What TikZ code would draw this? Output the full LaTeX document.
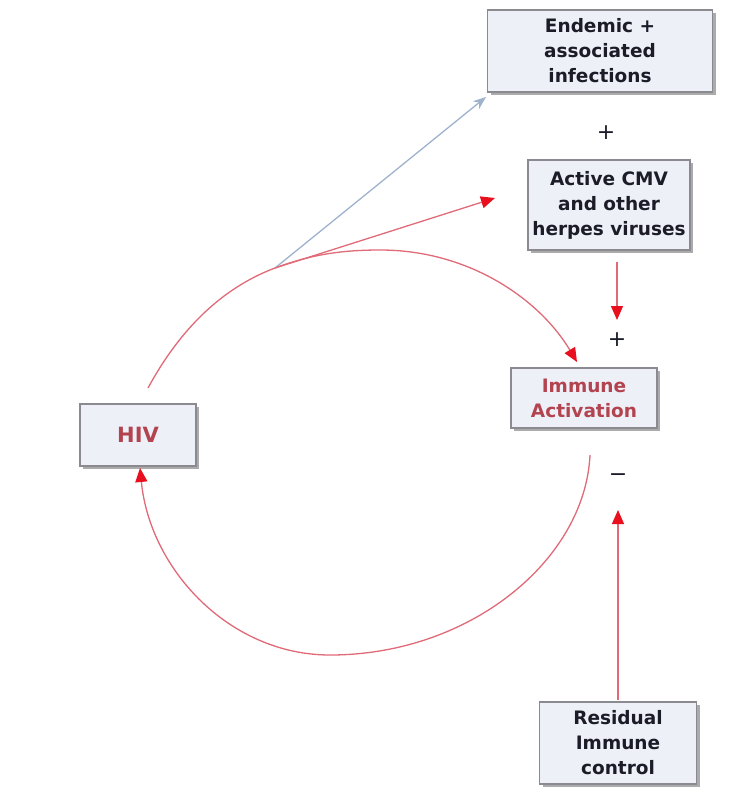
\documentclass[tikz,border=0pt]{standalone}
\usepackage{fontspec}
\setmainfont{DejaVu Sans}
\usetikzlibrary{shadows,arrows.meta}
\definecolor{boxfill}{HTML}{EEF0F8}
\definecolor{boxline}{HTML}{8A8A90}
\definecolor{darkred}{HTML}{B2434F}
\definecolor{arcred}{HTML}{E06A78}
\definecolor{headred}{HTML}{E8101E}
\definecolor{bluegrey}{HTML}{9FB2CC}
\definecolor{textdark}{HTML}{1C1C28}
\tikzset{
  box/.style={draw=boxline, line width=1.3pt, fill=boxfill, align=center, text=textdark,
    font=\fontsize{18.5}{25}\selectfont\bfseries, inner sep=0pt,
    drop shadow={shadow xshift=3pt, shadow yshift=-3pt, fill=black!55, opacity=0.6}},
  redbox/.style={box, text=darkred},
  redarrow/.style={draw=arcred, line width=1.3pt, -{Triangle[length=14pt,width=12pt,fill=headred,color=headred]}},
  bluearrow/.style={draw=bluegrey, line width=1.3pt, -{Stealth[length=13pt,width=10pt,color=bluegrey]}},
  sign/.style={font=\fontsize{22}{22}\selectfont, inner sep=0pt, text=textdark}
}
\begin{document}
\begin{tikzpicture}[x=1pt,y=-1pt]
\useasboundingbox (0,0) rectangle (744,792);
\node[box, minimum width=225pt, minimum height=82pt] (endemic) at (600,51) {Endemic +\\associated\\infections};
\node[box, minimum width=162pt, minimum height=90pt] (cmv) at (609,205) {Active CMV\\and other\\herpes viruses};
\node[redbox, minimum width=146pt, minimum height=60pt] (ia) at (584,398) {Immune\\Activation};
\node[redbox, minimum width=116pt, minimum height=62pt, font=\fontsize{21}{25}\selectfont\bfseries] (hiv) at (138,435) {HIV};
\node[box, minimum width=157pt, minimum height=82pt] (res) at (618,743) {Residual\\Immune\\control};
\node[sign] (p1) at (606,133) {+};
\node[sign] (p2) at (617,340) {+};
\node[sign] (m1) at (618,478) {\textminus};
\coordinate (hivtop) at (148,388);
\coordinate (branch) at (275,268);
\coordinate (iatop) at (577,362);
\coordinate (iabot) at (590,455);
\coordinate (hivbot) at (140,468);
\coordinate (cmvtip) at (495,198);
\coordinate (endtip) at (486,97);
\coordinate (cmvout) at (617,262);
\coordinate (cmvin) at (617,320);
\coordinate (resout) at (618,700);
\coordinate (resin) at (618,510);
% upper arc
\draw[draw=arcred, line width=1.3pt] (hivtop) .. controls (185,320) and (230,285) .. (branch);
\draw[redarrow] (branch) .. controls (310,255) and (340,250) .. (380,250) .. controls (470,250) and (540,300) .. (iatop);
% branches
\draw[bluearrow] (branch) -- (endtip);
\draw[redarrow] (branch) -- (cmvtip);
% lower arc
\draw[redarrow] (iabot) .. controls (585,560) and (470,655) .. (330,655) .. controls (230,655) and (150,570) .. (hivbot);
% vertical arrows
\draw[redarrow] (cmvout) -- (cmvin);
\draw[redarrow] (resout) -- (resin);
\end{tikzpicture}
\end{document}
